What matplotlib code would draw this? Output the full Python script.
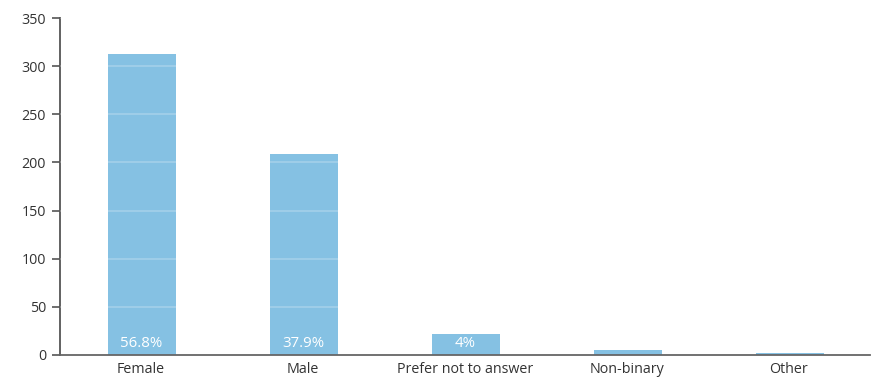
import matplotlib
matplotlib.use("Agg")
import matplotlib.pyplot as plt

categories = ["Female", "Male", "Prefer not to answer", "Non-binary", "Other"]
counts = [313, 209, 22, 5, 2]
pct_labels = ["56.8%", "37.9%", "4%", None, None]

plt.rcParams["font.family"] = ["Open Sans", "DejaVu Sans"]

fig = plt.figure(figsize=(8.75, 3.92), dpi=100)
ax = fig.add_axes([60 / 875, 37 / 392, 810 / 875, 337 / 392])

x = list(range(len(categories)))
bars = ax.bar([xi + 0.006 for xi in x], counts, width=0.42, color="#85c1e3", zorder=2)

ax.set_xlim(-0.5, len(categories) - 0.5)
ax.set_ylim(0, 350)
ax.set_yticks(range(0, 351, 50))
ax.set_xticks(x)
ax.set_xticklabels(categories)

# faint lines that show only across the bars
for yv in range(50, 351, 50):
    ax.axhline(yv, color="white", alpha=0.25, lw=1.2, zorder=3)

for xi, lab in zip(x, pct_labels):
    if lab:
        ax.text(xi, 4, lab, ha="center", va="bottom", color="white",
                fontsize=10.8, zorder=4)

for side in ("top", "right"):
    ax.spines[side].set_visible(False)
ax.spines["left"].set_color("#555555")
ax.spines["bottom"].set_color("#666666")
ax.spines["left"].set_linewidth(1.3)
ax.spines["bottom"].set_linewidth(1.3)
ax.tick_params(axis="y", length=6, width=1.2, color="#555555",
               labelsize=10.3, labelcolor="#333333", pad=4)
ax.tick_params(axis="x", length=0, labelsize=10.3, labelcolor="#333333", pad=5)

fig.savefig("out.png", dpi=100)
